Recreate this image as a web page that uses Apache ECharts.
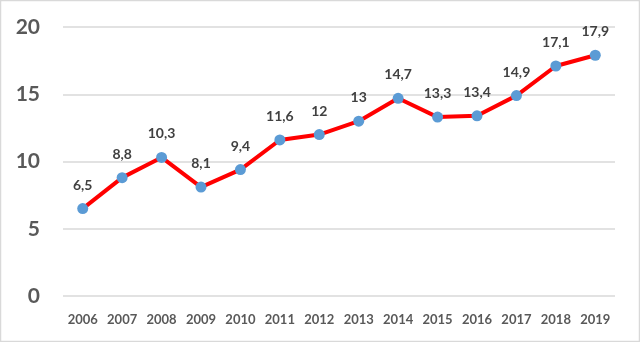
<!DOCTYPE html>
<html><head><meta charset="utf-8">
<script src="https://cdn.jsdelivr.net/npm/echarts@6/dist/echarts.min.js"></script>
<style>html,body{margin:0;padding:0;background:#fff}#c{width:640px;height:342px}</style>
</head><body><div id="c"></div>
<script>
const years = ['2006','2007','2008','2009','2010','2011','2012','2013','2014','2015','2016','2017','2018','2019'];
const values = [6.5, 8.8, 10.3, 8.1, 9.4, 11.6, 12, 13, 14.7, 13.3, 13.4, 14.9, 17.1, 17.9];
const chart = echarts.init(document.getElementById('c'));
chart.setOption({
  animation: false,
  graphic: [{type:'rect', shape:{x:0.5,y:0.5,width:639,height:341}, style:{fill:'none', stroke:'#d9d9d9', lineWidth:1.5}, silent:true}],
  grid: {left: 63, right: 25, top: 27, bottom: 46},
  xAxis: {
    type: 'category', data: years, boundaryGap: true,
    axisLine: {show: false}, axisTick: {show: false},
    axisLabel: {color: '#595959', fontFamily: 'Lato', fontWeight: 'bold', fontSize: 13, margin: 17}
  },
  yAxis: {
    type: 'value', min: 0, max: 20, interval: 5,
    axisLine: {show: false}, axisTick: {show: false},
    splitLine: {lineStyle: {color: '#d9d9d9', width: 1.5}},
    axisLabel: {color: '#595959', fontFamily: 'Lato', fontWeight: 'bold', fontSize: 21, margin: 23}
  },
  series: [{
    type: 'line', data: values,
    lineStyle: {color: '#ff0000', width: 4},
    symbol: 'circle', symbolSize: 11,
    itemStyle: {color: '#5b9bd5'},
    label: {show: true, position: 'top', distance: 11, color: '#404040', fontFamily: 'Lato', fontWeight: 'bold', fontSize: 14,
      formatter: p => String(p.value).replace('.', ',')}
  }]
});
</script></body></html>
